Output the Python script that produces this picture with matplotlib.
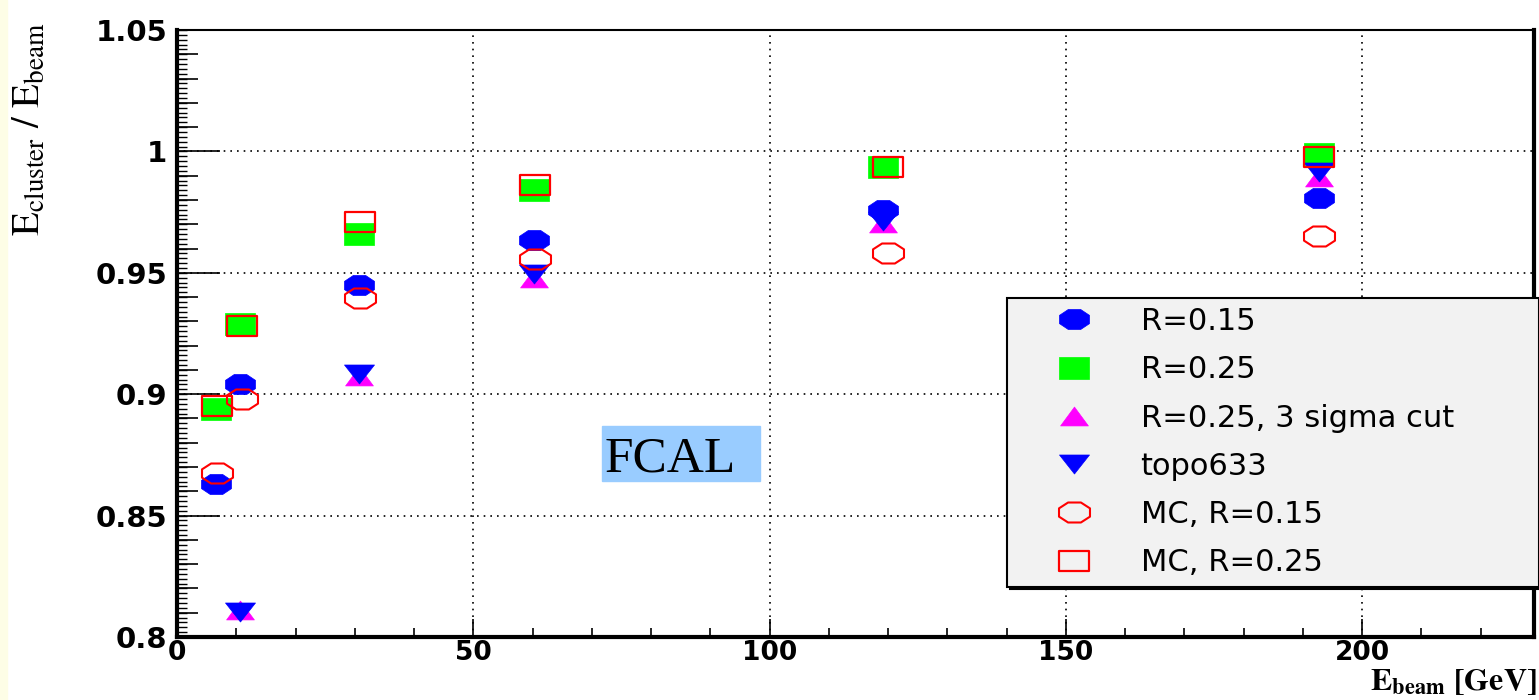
import numpy as np
import matplotlib
matplotlib.use("Agg")
import matplotlib.pyplot as plt
from matplotlib.path import Path
from matplotlib.patches import Rectangle
from matplotlib.ticker import MultipleLocator

plt.rcParams['font.family'] = ['DejaVu Sans']
plt.rcParams['mathtext.fontset'] = 'stix'

# data (E_beam in GeV, E_cluster / E_beam)
e_data = [6.5, 10.6, 30.7, 60.3, 119.2, 192.7]
r015 = [0.863, 0.904, 0.945, 0.9635, 0.976, 0.981]
r025 = [0.894, 0.929, 0.966, 0.984, 0.9936, 0.999]

e_cut = [10.6, 30.7, 60.3, 119.2, 192.7]
r025_cut = [0.811, 0.9075, 0.948, 0.9705, 0.9895]
topo633 = [0.8105, 0.9085, 0.9495, 0.9715, 0.9915]

e_mc = [6.7, 10.9, 30.9, 60.4, 120.0, 192.8]
mc_r015 = [0.8677, 0.898, 0.9396, 0.9557, 0.958, 0.965]
mc_r025 = [0.895, 0.928, 0.971, 0.986, 0.9934, 0.9978]

labels = ['R=0.15', 'R=0.25', 'R=0.25, 3 sigma cut', 'topo633',
          'MC, R=0.15', 'MC, R=0.25']
xticks = [0, 50, 100, 150, 200]
yticks = [0.8, 0.85, 0.9, 0.95, 1.0, 1.05]


# ROOT-like markers, a bit wider than tall like in the picture
def octagon(w, h):
    ang = np.deg2rad(22.5 + 45 * np.arange(8))
    v = np.column_stack([w / 2 * np.cos(ang), h / 2 * np.sin(ang)])
    v = np.vstack([v, v[:1]])
    return Path(v, [Path.MOVETO] + [Path.LINETO] * 7 + [Path.CLOSEPOLY])


def rect(w, h):
    v = [(-w / 2, -h / 2), (w / 2, -h / 2), (w / 2, h / 2), (-w / 2, h / 2), (-w / 2, -h / 2)]
    return Path(v, [Path.MOVETO] + [Path.LINETO] * 3 + [Path.CLOSEPOLY])


def tri(w, h, up=True):
    s = 1 if up else -1
    v = [(-w / 2, -s * h / 2), (w / 2, -s * h / 2), (0, s * h / 2), (-w / 2, -s * h / 2)]
    return Path(v, [Path.MOVETO] + [Path.LINETO] * 2 + [Path.CLOSEPOLY])


fig = plt.figure(figsize=(15.39, 7), dpi=100)
fig.add_artist(Rectangle((0, 0), 7 / 1539, 1, transform=fig.transFigure,
                         color='#fdfde6', zorder=0))
ax = fig.add_axes([177 / 1539, 1 - 637 / 700, (1534 - 177) / 1539, (637 - 30) / 700])

ax.plot(e_data, r015, ls='none', marker=octagon(30, 20), ms=21.6,
        mfc='#0000ff', mec='#0000ff', mew=0.5, label=labels[0])
ax.plot(e_data, r025, ls='none', marker=rect(30, 22), ms=21.6,
        mfc='#00ff00', mec='#00ff00', mew=0.5, label=labels[1])
ax.plot(e_cut, r025_cut, ls='none', marker=tri(28, 19, True), ms=20,
        mfc='#ff00ff', mec='#ff00ff', mew=0.5, label=labels[2])
ax.plot(e_cut, topo633, ls='none', marker=tri(30, 19, False), ms=21.6,
        mfc='#0000ff', mec='#0000ff', mew=0.5, label=labels[3])
ax.plot(e_mc, mc_r015, ls='none', marker=octagon(31, 20), ms=22.3,
        mfc='none', mec='#ff0000', mew=1.5, label=labels[4])
ax.plot(e_mc, mc_r025, ls='none', marker=rect(30, 20), ms=21.6,
        mfc='none', mec='#ff0000', mew=1.6, label=labels[5])

ax.set_xlim(0, 229)
ax.set_ylim(0.8, 1.05)

ax.set_xticks(xticks, labels=['%g' % t for t in xticks], fontsize=19, fontweight='bold')
ax.set_yticks(yticks, labels=['%g' % t for t in yticks], fontsize=21, fontweight='bold')
ax.xaxis.set_minor_locator(MultipleLocator(10))
ax.yaxis.set_minor_locator(MultipleLocator(0.01))
ax.tick_params(which='both', direction='in', top=False, right=False, width=1.2)
ax.tick_params(axis='x', which='major', length=13, pad=2)
ax.tick_params(axis='x', which='minor', length=6.5)
ax.tick_params(axis='y', which='major', length=31, pad=7)
ax.tick_params(axis='y', which='minor', length=15)

# third level of small ticks on the y axis
sec = ax.secondary_yaxis('left')
sec.set_yticks(np.arange(0.8, 1.0501, 0.002))
sec.tick_params(direction='in', length=7.5, width=1.0, labelleft=False)
sec.spines['left'].set_visible(False)

ax.grid(True, which='major', color='black', linestyle=(0, (1, 3)), linewidth=1.2)

for side, lw in [('left', 3), ('bottom', 3), ('right', 3), ('top', 1.5)]:
    ax.spines[side].set_linewidth(lw)

leg = ax.legend(loc='upper left', mode='expand',
                bbox_to_anchor=(1007 / 1539, 1 - 590 / 700, 532 / 1539, 292 / 700),
                bbox_transform=fig.transFigure, borderaxespad=0, fontsize=22,
                labelspacing=0.63, borderpad=0.3, handlelength=3.8, handletextpad=0.27,
                numpoints=1, fancybox=False, framealpha=1, facecolor='#f2f2f2',
                edgecolor='black', shadow={'color': 'black', 'alpha': 1})
leg.get_frame().set_linewidth(1.5)

# FCAL tag
fig.add_artist(Rectangle((602 / 1539, 1 - 481 / 700), 158 / 1539, 55 / 700,
                         transform=fig.transFigure, color='#99ccff', zorder=3))
fig.text(605 / 1539, 1 - 472 / 700, 'FCAL', family='Liberation Serif', fontsize=37,
         va='baseline', zorder=4)

fig.text(10 / 1539, 1 - 22 / 700, r'$\mathrm{E_{cluster}\ /\ E_{beam}}$',
         rotation=90, ha='left', va='top', fontsize=28)
fig.text(1537 / 1539, 1 - 690 / 700, r'$\mathbf{E_{beam}\ [GeV]}$',
         ha='right', va='baseline', fontsize=23)

fig.savefig('out.png', dpi=100)
